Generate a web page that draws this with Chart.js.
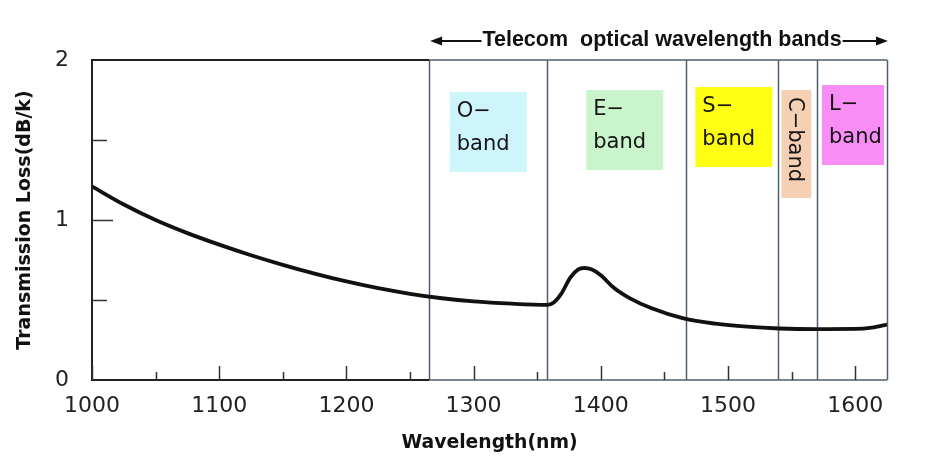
<!DOCTYPE html>
<html>
<head>
<meta charset="utf-8">
<script src="https://cdn.jsdelivr.net/npm/chart.js@4.4.1/dist/chart.umd.min.js"></script>
<style>
  html, body { margin: 0; padding: 0; background: #fff; }
  #wrap { position: relative; width: 941px; height: 474px; }
</style>
</head>
<body>
<div id="wrap"><canvas id="c" width="941" height="474"></canvas></div>
<script>
// ---- data ----
const wavelength = [1000,1025,1050,1075,1100,1125,1150,1175,1200,1225,1250,1275,1300,1330,1358,1363,1369,1376,1382,1387,1393,1400,1410,1423,1440,1465,1490,1515,1540,1570,1600,1613,1625];
const loss =       [1.21,1.097,1.0,0.918,0.846,0.78,0.72,0.665,0.616,0.574,0.539,0.511,0.491,0.477,0.470,0.485,0.54,0.64,0.69,0.70,0.69,0.655,0.578,0.51,0.448,0.385,0.352,0.333,0.322,0.318,0.319,0.327,0.346];
const xTickLabels = [1000,1100,1200,1300,1400,1500,1600];
const xMinorTicks = [1050,1150,1250,1350,1450,1550];
const yTickLabels = [0,1,2];
const yInnerTicks = [0.5,1,1.5];
const bandNames = ['O', 'E', 'S', 'C', 'L'];
const bandStart = [1265, 1358, 1467, 1539, 1570];
const bandEnd   = [1358, 1467, 1539, 1570, 1625];
const titleText = 'Telecom  optical wavelength bands';

// ---- styles (not data) ----
const bandBoxStyle = [
  { color: '#cdf5fb', w: 77, top: 92, h: 80, dx: 0 },
  { color: '#c9f4cc', w: 77, top: 90, h: 80, dx: 8 },
  { color: '#ffff14', w: 77, top: 87, h: 80, dx: 2 },
  { color: '#f6d0b4', w: 30, top: 90, h: 108, dx: -1, vertical: true },
  { color: '#f98df6', w: 62, top: 85, h: 80, dx: 1 }
];
const FONT = '"DejaVu Sans", "Liberation Sans", sans-serif';
const bandLineColor = '#4f5d6c';

const decor = {
  id: 'decor',
  beforeDatasetsDraw(chart) {
    const ctx = chart.ctx, xs = chart.scales.x, a = chart.chartArea;
    ctx.save();
    // band label boxes
    bandNames.forEach((n, i) => {
      const st = bandBoxStyle[i];
      const cx = (xs.getPixelForValue(bandStart[i]) + xs.getPixelForValue(bandEnd[i])) / 2 + st.dx;
      const left = cx - st.w / 2;
      ctx.fillStyle = st.color;
      ctx.fillRect(left, st.top, st.w, st.h);
      ctx.fillStyle = '#151515';
      ctx.font = '21px ' + FONT;
      if (st.vertical) {
        ctx.save();
        ctx.translate(cx - 7, st.top + 7);
        ctx.rotate(Math.PI / 2);
        ctx.textBaseline = 'alphabetic';
        ctx.textAlign = 'left';
        ctx.fillText(n + '\u2212band', 0, 0);
        ctx.restore();
      } else {
        ctx.textAlign = 'left';
        ctx.textBaseline = 'alphabetic';
        ctx.fillText(n + '\u2212', left + 7, st.top + 25);
        ctx.fillText('band', left + 7, st.top + 58);
      }
    });
    // band boundary lines
    ctx.strokeStyle = bandLineColor;
    ctx.lineWidth = 1.5;
    bandStart.concat([bandEnd[bandEnd.length - 1]]).forEach(v => {
      const x = Math.round(xs.getPixelForValue(v)) + 0.5;
      ctx.beginPath(); ctx.moveTo(x, a.top); ctx.lineTo(x, a.bottom); ctx.stroke();
    });
    ctx.restore();
  },
  afterDraw(chart) {
    const ctx = chart.ctx, xs = chart.scales.x, ys = chart.scales.y, a = chart.chartArea;
    ctx.save();
    const xBand = xs.getPixelForValue(bandStart[0]);
    // frame
    ctx.lineWidth = 2;
    ctx.strokeStyle = '#222';
    ctx.beginPath();
    ctx.moveTo(xBand, a.top); ctx.lineTo(a.left, a.top); ctx.lineTo(a.left, a.bottom); ctx.lineTo(xBand, a.bottom);
    ctx.stroke();
    ctx.strokeStyle = bandLineColor;
    ctx.lineWidth = 1.5;
    ctx.beginPath();
    ctx.moveTo(xBand, a.top); ctx.lineTo(a.right, a.top);
    ctx.moveTo(xBand, a.bottom); ctx.lineTo(a.right, a.bottom);
    ctx.stroke();
    // inner ticks
    ctx.strokeStyle = '#333';
    ctx.lineWidth = 1.5;
    ctx.beginPath();
    yInnerTicks.forEach(v => {
      const y = Math.round(ys.getPixelForValue(v)) + 0.5;
      const len = v === 1 ? 21 : 15;
      ctx.moveTo(a.left, y); ctx.lineTo(a.left + len, y);
    });
    xTickLabels.forEach(v => {
      const x = Math.round(xs.getPixelForValue(v)) + 0.5;
      ctx.moveTo(x, a.bottom); ctx.lineTo(x, a.bottom - 14);
    });
    xMinorTicks.forEach(v => {
      const x = Math.round(xs.getPixelForValue(v)) + 0.5;
      ctx.moveTo(x, a.bottom); ctx.lineTo(x, a.bottom - 8);
    });
    ctx.stroke();
    // title with arrows
    const x0 = xBand + 1, x1 = a.right + 1;
    const ty = 46, ay = 41;
    ctx.font = 'bold 21.5px "Liberation Sans", Arial, sans-serif';
    ctx.fillStyle = '#111';
    ctx.textAlign = 'center';
    ctx.textBaseline = 'alphabetic';
    const cx = (x0 + x1) / 2 + 3;
    ctx.fillText(titleText, cx, ty);
    const tw = ctx.measureText(titleText).width;
    ctx.strokeStyle = '#111';
    ctx.lineWidth = 2;
    ctx.beginPath();
    ctx.moveTo(x0 + 8, ay); ctx.lineTo(cx - tw / 2 - 1, ay);
    ctx.moveTo(cx + tw / 2 + 1, ay); ctx.lineTo(x1 - 8, ay);
    ctx.stroke();
    ctx.beginPath();
    ctx.moveTo(x0, ay); ctx.lineTo(x0 + 12, ay - 4.5); ctx.lineTo(x0 + 12, ay + 4.5); ctx.closePath();
    ctx.moveTo(x1, ay); ctx.lineTo(x1 - 12, ay - 4.5); ctx.lineTo(x1 - 12, ay + 4.5); ctx.closePath();
    ctx.fill();
    ctx.restore();
  }
};

new Chart(document.getElementById('c'), {
  type: 'line',
  data: {
    datasets: [{
      data: wavelength.map((w, i) => ({ x: w, y: loss[i] })),
      borderColor: '#111',
      borderWidth: 3.8,
      pointRadius: 0,
      cubicInterpolationMode: 'monotone',
      fill: false
    }]
  },
  options: {
    responsive: false,
    animation: false,
    devicePixelRatio: 1,
    layout: { padding: { left: 0, right: 54, top: 60, bottom: 0 } },
    plugins: { legend: { display: false }, tooltip: { enabled: false }, title: { display: false } },
    scales: {
      x: {
        type: 'linear', min: 1000, max: 1625,
        afterBuildTicks: s => { s.ticks = xTickLabels.map(v => ({ value: v })); },
        afterFit: s => { s.height = 94; },
        grid: { display: false, drawTicks: false },
        border: { display: false },
        ticks: { font: { family: FONT, size: 22 }, color: '#222', padding: 13, maxRotation: 0, autoSkip: false, callback: v => String(v) },
        title: { display: true, text: 'Wavelength(nm)', font: { family: FONT, size: 18.8, weight: 'bold' }, color: '#111', padding: { top: 0, bottom: 20 } }
      },
      y: {
        type: 'linear', min: 0, max: 2,
        afterBuildTicks: s => { s.ticks = yTickLabels.map(v => ({ value: v })); },
        afterFit: s => { s.width = 92; },
        grid: { display: false, drawTicks: false },
        border: { display: false },
        ticks: { font: { family: FONT, size: 22 }, color: '#222', padding: 23, callback: v => String(v) },
        title: { display: true, text: 'Transmission Loss(dB/k)', font: { family: FONT, size: 19, weight: 'bold' }, color: '#111', padding: { top: 14, bottom: 0 } }
      }
    }
  },
  plugins: [decor]
});
</script>
</body>
</html>
